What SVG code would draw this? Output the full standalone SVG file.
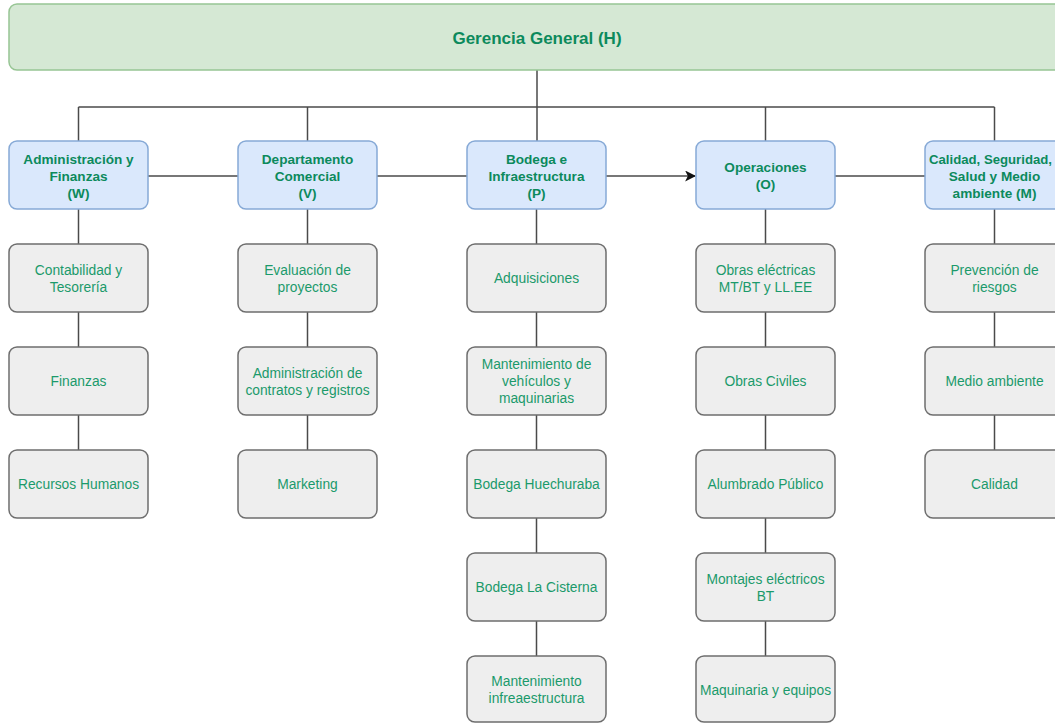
<svg xmlns="http://www.w3.org/2000/svg" width="1055" height="723" viewBox="0 0 1055 723">
  <defs>
    <style>
      .top { fill: #d5e8d4; stroke: #97c594; stroke-width: 1.5; }
      .head { fill: #dae8fc; stroke: #86a9d6; stroke-width: 1.5; }
      .item { fill: #eeeeee; stroke: #6e6e6e; stroke-width: 1.5; }
      .tt { font-family: "Liberation Sans", Arial, sans-serif; font-weight: bold; font-size: 17px; fill: #0c8a5c; text-anchor: middle; dominant-baseline: central; }
      .ht { font-family: "Liberation Sans", Arial, sans-serif; font-weight: bold; font-size: 13.6px; fill: #0c8a5c; text-anchor: middle; dominant-baseline: central; }
      .it { font-family: "Liberation Sans", Arial, sans-serif; font-size: 13.8px; fill: #1b9a6b; text-anchor: middle; dominant-baseline: central; }
      .ln { fill: none; stroke: #4a4a4a; stroke-width: 1.5; }
    </style>
    <marker id="arrow" viewBox="0 0 10 10" refX="9" refY="5" markerWidth="11" markerHeight="11" markerUnits="userSpaceOnUse" orient="auto">
      <path d="M0,0 L10,5 L0,10 L2.5,5 Z" fill="#111"/>
    </marker>
  </defs>

  <rect width="1055" height="723" fill="#ffffff"/>

  <!-- connectors -->
  <g id="connectors">
    <path class="ln" d="M537,70 V141"/>
    <path class="ln" d="M78.5,107 H994.5"/>
    <path class="ln" d="M78.5,107 V141"/>
    <path class="ln" d="M307.5,107 V141"/>
    <path class="ln" d="M765.5,107 V141"/>
    <path class="ln" d="M994.5,107 V141"/>
    <path class="ln" d="M148,176 H238"/>
    <path class="ln" d="M377,176 H467"/>
    <path class="ln" d="M606,176 H695" marker-end="url(#arrow)"/>
    <path class="ln" d="M835,176 H925"/>
    <!-- column stems -->
    <path class="ln" d="M78.5,209 V450"/>
    <path class="ln" d="M307.5,209 V450"/>
    <path class="ln" d="M536.5,209 V656"/>
    <path class="ln" d="M765.5,209 V656"/>
    <path class="ln" d="M994.5,209 V450"/>
  </g>

  <!-- root -->
  <g id="gerencia">
    <rect class="top" x="9" y="4" width="1060" height="66" rx="8"/>
    <text class="tt" x="537" y="38">Gerencia General (H)</text>
  </g>

  <!-- department heads -->
  <g id="dept-w">
    <rect class="head" x="9" y="141" width="139" height="68" rx="8"/>
    <text class="ht" x="78.5" y="159">Administración y</text>
    <text class="ht" x="78.5" y="176">Finanzas</text>
    <text class="ht" x="78.5" y="193">(W)</text>
  </g>
  <g id="dept-v">
    <rect class="head" x="238" y="141" width="139" height="68" rx="8"/>
    <text class="ht" x="307.5" y="159">Departamento</text>
    <text class="ht" x="307.5" y="176">Comercial</text>
    <text class="ht" x="307.5" y="193">(V)</text>
  </g>
  <g id="dept-p">
    <rect class="head" x="467" y="141" width="139" height="68" rx="8"/>
    <text class="ht" x="536.5" y="159">Bodega e</text>
    <text class="ht" x="536.5" y="176">Infraestructura</text>
    <text class="ht" x="536.5" y="193">(P)</text>
  </g>
  <g id="dept-o">
    <rect class="head" x="696" y="141" width="139" height="68" rx="8"/>
    <text class="ht" x="765.5" y="167">Operaciones</text>
    <text class="ht" x="765.5" y="184">(O)</text>
  </g>
  <g id="dept-m">
    <rect class="head" x="925" y="141" width="139" height="68" rx="8"/>
    <text class="ht" x="929" y="159" style="text-anchor:start" textLength="123" lengthAdjust="spacingAndGlyphs">Calidad, Seguridad,</text>
    <text class="ht" x="994.5" y="176">Salud y Medio</text>
    <text class="ht" x="994.5" y="193">ambiente (M)</text>
  </g>

  <!-- Administración y Finanzas -->
  <g id="w1">
    <rect class="item" x="9" y="244" width="139" height="68" rx="8"/>
    <text class="it" x="78.5" y="270">Contabilidad y</text>
    <text class="it" x="78.5" y="287">Tesorería</text>
  </g>
  <g id="w2">
    <rect class="item" x="9" y="347" width="139" height="68" rx="8"/>
    <text class="it" x="78.5" y="381">Finanzas</text>
  </g>
  <g id="w3">
    <rect class="item" x="9" y="450" width="139" height="68" rx="8"/>
    <text class="it" x="78.5" y="484">Recursos Humanos</text>
  </g>

  <!-- Departamento Comercial -->
  <g id="v1">
    <rect class="item" x="238" y="244" width="139" height="68" rx="8"/>
    <text class="it" x="307.5" y="270">Evaluación de</text>
    <text class="it" x="307.5" y="287">proyectos</text>
  </g>
  <g id="v2">
    <rect class="item" x="238" y="347" width="139" height="68" rx="8"/>
    <text class="it" x="307.5" y="373">Administración de</text>
    <text class="it" x="307.5" y="390">contratos y registros</text>
  </g>
  <g id="v3">
    <rect class="item" x="238" y="450" width="139" height="68" rx="8"/>
    <text class="it" x="307.5" y="484">Marketing</text>
  </g>

  <!-- Bodega e Infraestructura -->
  <g id="p1">
    <rect class="item" x="467" y="244" width="139" height="68" rx="8"/>
    <text class="it" x="536.5" y="278">Adquisiciones</text>
  </g>
  <g id="p2">
    <rect class="item" x="467" y="347" width="139" height="68" rx="8"/>
    <text class="it" x="536.5" y="364">Mantenimiento de</text>
    <text class="it" x="536.5" y="381">vehículos y</text>
    <text class="it" x="536.5" y="398">maquinarias</text>
  </g>
  <g id="p3">
    <rect class="item" x="467" y="450" width="139" height="68" rx="8"/>
    <text class="it" x="536.5" y="484">Bodega Huechuraba</text>
  </g>
  <g id="p4">
    <rect class="item" x="467" y="553" width="139" height="68" rx="8"/>
    <text class="it" x="536.5" y="587">Bodega La Cisterna</text>
  </g>
  <g id="p5">
    <rect class="item" x="467" y="656" width="139" height="66" rx="8"/>
    <text class="it" x="536.5" y="681">Mantenimiento</text>
    <text class="it" x="536.5" y="698">infreaestructura</text>
  </g>

  <!-- Operaciones -->
  <g id="o1">
    <rect class="item" x="696" y="244" width="139" height="68" rx="8"/>
    <text class="it" x="765.5" y="270">Obras eléctricas</text>
    <text class="it" x="765.5" y="287">MT/BT y LL.EE</text>
  </g>
  <g id="o2">
    <rect class="item" x="696" y="347" width="139" height="68" rx="8"/>
    <text class="it" x="765.5" y="381">Obras Civiles</text>
  </g>
  <g id="o3">
    <rect class="item" x="696" y="450" width="139" height="68" rx="8"/>
    <text class="it" x="765.5" y="484">Alumbrado Público</text>
  </g>
  <g id="o4">
    <rect class="item" x="696" y="553" width="139" height="68" rx="8"/>
    <text class="it" x="765.5" y="579">Montajes eléctricos</text>
    <text class="it" x="765.5" y="596">BT</text>
  </g>
  <g id="o5">
    <rect class="item" x="696" y="656" width="139" height="66" rx="8"/>
    <text class="it" x="765.5" y="690">Maquinaria y equipos</text>
  </g>

  <!-- Calidad, Seguridad, Salud y Medio ambiente -->
  <g id="m1">
    <rect class="item" x="925" y="244" width="139" height="68" rx="8"/>
    <text class="it" x="994.5" y="270">Prevención de</text>
    <text class="it" x="994.5" y="287">riesgos</text>
  </g>
  <g id="m2">
    <rect class="item" x="925" y="347" width="139" height="68" rx="8"/>
    <text class="it" x="994.5" y="381">Medio ambiente</text>
  </g>
  <g id="m3">
    <rect class="item" x="925" y="450" width="139" height="68" rx="8"/>
    <text class="it" x="994.5" y="484">Calidad</text>
  </g>
</svg>
